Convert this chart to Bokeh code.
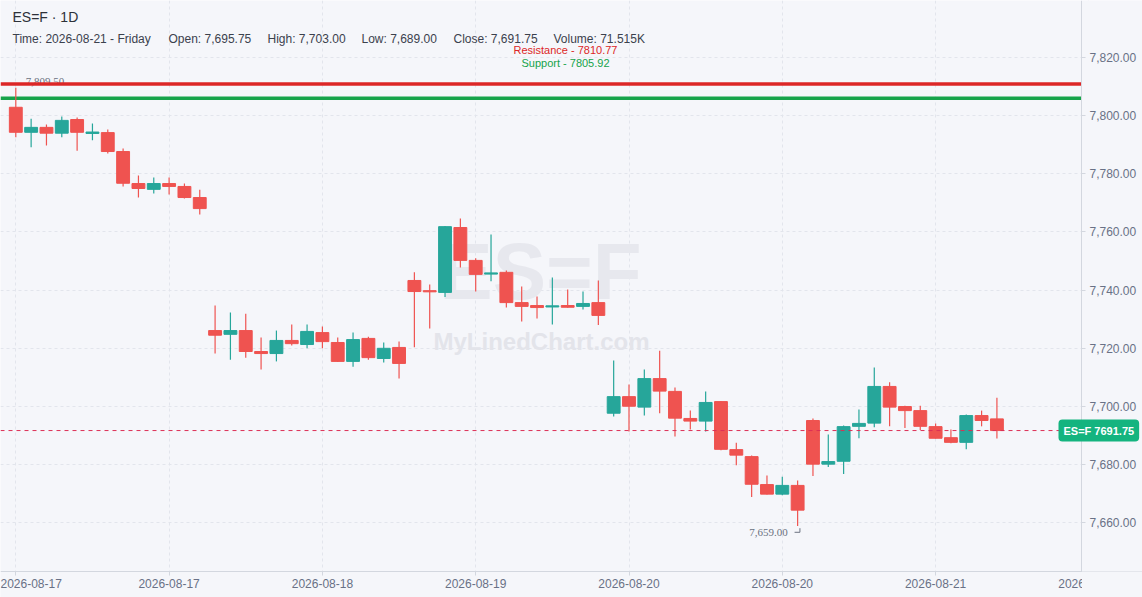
from bokeh.plotting import figure
from bokeh.models import Label, FixedTicker, NumeralTickFormatter, Range1d, BoxAnnotation
from bokeh.embed import file_html
from bokeh.resources import INLINE

# ---------------- data ----------------
symbol = "ES=F"
interval = "1D"

opens = [7802.8, 7794.2, 7795.9, 7793.9, 7798.6, 7793.8, 7794.1, 7787.6, 7776.6, 7774.6,
         7776.6, 7775.6, 7771.8, 7726.1, 7724.8, 7726.1, 7718.9, 7718.2, 7722.7, 7721.3,
         7725.4, 7722.0, 7715.5, 7723.4, 7716.5, 7720.3, 7743.3, 7739.8, 7739.2, 7761.5,
         7750.2, 7745.5, 7746.1, 7735.7, 7734.7, 7734.2, 7734.7, 7734.4, 7735.7, 7697.7,
         7703.4, 7699.8, 7709.6, 7705.2, 7695.9, 7695.0, 7701.7, 7685.2, 7682.8, 7673.2,
         7669.9, 7672.9, 7695.2, 7680.2, 7681.2, 7693.2, 7694.3, 7706.9, 7700.0, 7698.6,
         7693.1, 7689.3, 7687.7, 7696.9, 7695.75]
highs = [7809.5, 7798.9, 7796.9, 7799.6, 7799.3, 7797.2, 7795.2, 7788.6, 7779.4, 7778.7,
         7778.7, 7776.6, 7774.5, 7734.7, 7732.3, 7731.9, 7723.7, 7726.1, 7728.2, 7728.2,
         7727.5, 7723.7, 7725.4, 7724.0, 7722.0, 7722.3, 7746.1, 7741.9, 7762.0, 7764.6,
         7750.9, 7759.1, 7746.7, 7741.2, 7737.8, 7744.3, 7740.2, 7739.5, 7743.3, 7715.8,
         7707.6, 7712.7, 7719.2, 7706.5, 7698.6, 7705.2, 7701.9, 7687.6, 7683.2, 7676.3,
         7675.9, 7674.6, 7695.9, 7690.4, 7693.5, 7699.0, 7713.4, 7708.3, 7700.3, 7700.3,
         7694.2, 7692.1, 7697.3, 7698.6, 7703.0]
lows = [7792.5, 7789.1, 7789.7, 7792.5, 7787.9, 7791.5, 7786.9, 7775.6, 7771.8, 7773.2,
        7772.8, 7771.5, 7766.0, 7718.2, 7716.1, 7716.8, 7712.7, 7715.5, 7721.0, 7720.0,
        7720.0, 7715.3, 7713.7, 7716.1, 7715.1, 7709.6, 7720.4, 7726.8, 7737.6, 7747.8,
        7739.5, 7743.0, 7734.0, 7729.2, 7730.2, 7728.2, 7733.9, 7733.3, 7728.0, 7696.6,
        7691.4, 7696.9, 7697.7, 7689.7, 7692.1, 7691.4, 7685.0, 7679.8, 7668.9, 7669.8,
        7669.5, 7659.0, 7676.1, 7679.2, 7676.8, 7689.1, 7692.9, 7693.2, 7692.6, 7691.9,
        7689.0, 7687.4, 7685.3, 7693.2, 7689.0]
closes = [7794.2, 7795.9, 7793.9, 7798.3, 7794.2, 7794.3, 7787.6, 7776.7, 7774.9, 7776.6,
          7775.6, 7771.8, 7768.0, 7724.5, 7726.1, 7718.9, 7718.2, 7722.7, 7721.6, 7725.8,
          7722.3, 7715.5, 7723.0, 7716.8, 7720.0, 7714.8, 7739.5, 7739.4, 7761.8, 7750.2,
          7745.4, 7745.9, 7735.7, 7734.4, 7734.0, 7734.6, 7734.1, 7735.4, 7731.3, 7703.4,
          7700.1, 7709.6, 7705.3, 7696.0, 7695.0, 7701.4, 7685.3, 7683.3, 7673.3, 7669.9,
          7672.9, 7664.4, 7680.2, 7681.1, 7693.1, 7694.2, 7706.9, 7699.8, 7698.6, 7693.2,
          7689.1, 7687.7, 7696.9, 7695.2, 7691.75]

x_tick_idx = [0, 10, 20, 30, 40, 50, 60, 70]
x_tick_labels = ["2026-08-17", "2026-08-17", "2026-08-18", "2026-08-19",
                 "2026-08-20", "2026-08-20", "2026-08-21", "2026-08-21"]
y_ticks = [7660, 7680, 7700, 7720, 7740, 7760, 7780, 7800, 7820]

resistance = 7810.77
support = 7805.92

last_time = "2026-08-21 - Friday"
last_open = 7695.75
last_high = 7703.00
last_low = 7689.00
last_close = 7691.75
last_volume = "71.515K"

# ---------------- layout / styling ----------------
BG = "#f5f6fa"
UP = "#26a69a"
DOWN = "#ef5350"
GRID = "#e2e5ec"
AXIS_TXT = "#697186"
AXIS_LINE = "#d3d7df"
MARK_TXT = "#6b7280"
FONT = "Liberation Sans"

W, H = 1142, 597          # whole page; the frame fills it
PANE_R, PANE_B = 1081, 571  # pixel position of the price axis / time axis
PX_PER_BAR = 15.33
PX_PER_PT = 1 / 0.34352
X0 = -15.3 / PX_PER_BAR
X1 = X0 + W / PX_PER_BAR
Y1 = 7839.48
Y0 = Y1 - H / PX_PER_PT
AX = X0 + PANE_R / PX_PER_BAR   # x (bar units) where the price axis sits
AY = Y1 - PANE_B / PX_PER_PT    # y (price) where the time axis sits

xs = list(range(len(opens)))
colors = [UP if c >= o else DOWN for o, c in zip(opens, closes)]
tops = [max(o, c) for o, c in zip(opens, closes)]
bots = [min(o, c) for o, c in zip(opens, closes)]

p = figure(width=W, height=H, output_backend="svg", toolbar_location=None,
           x_range=Range1d(X0, X1), y_range=Range1d(Y0, Y1),
           y_axis_location="right", min_border=0)
p.background_fill_color = BG
p.border_fill_color = BG
p.outline_line_color = None

# axes (drawn inside the frame at fixed positions)
p.yaxis.ticker = FixedTicker(ticks=y_ticks)
p.yaxis.formatter = NumeralTickFormatter(format="0,0.00")
p.yaxis.fixed_location = AX
p.yaxis.bounds = (AY, Y1)
p.xaxis.ticker = FixedTicker(ticks=x_tick_idx)
p.xaxis.major_label_overrides = {i: lab for i, lab in zip(x_tick_idx, x_tick_labels)}
p.xaxis.fixed_location = AY
for ax in (p.xaxis, p.yaxis):
    ax.axis_line_color = AXIS_LINE
    ax.major_tick_line_color = AXIS_LINE
    ax.major_tick_out = 4
    ax.major_tick_in = 0
    ax.minor_tick_line_color = None
    ax.major_label_text_color = AXIS_TXT
    ax.major_label_text_font = FONT
    ax.major_label_text_font_size = "12px"
p.yaxis.major_label_standoff = 4
p.xaxis.major_label_standoff = 3

p.xgrid.grid_line_color = GRID
p.ygrid.grid_line_color = GRID
p.xgrid.grid_line_dash = "3 3"
p.ygrid.grid_line_dash = "3 3"


def sy(y_top):
    """pixel y measured from the top -> frame-relative label y"""
    return H - y_top


# watermark
p.add_layout(Label(x=540, y=sy(271), x_units="screen", y_units="screen",
                   text=symbol, text_align="center", text_baseline="middle",
                   text_font=FONT, text_font_style="bold", text_font_size="80px",
                   text_color="#e7e8ee", level="underlay"))
p.add_layout(Label(x=541, y=sy(341), x_units="screen", y_units="screen",
                   text="MyLinedChart.com", text_align="center", text_baseline="middle",
                   text_font=FONT, text_font_style="bold", text_font_size="24px",
                   text_color="#e3e4ea", level="underlay"))

# keep grid lines inside the price pane
p.add_layout(BoxAnnotation(left=AX, fill_color=BG, fill_alpha=1, line_color=None,
                           level="underlay"))
p.add_layout(BoxAnnotation(top=AY, fill_color=BG, fill_alpha=1, line_color=None,
                           level="underlay"))

# high / low markers (under the level lines)
imax = max(xs, key=lambda i: highs[i])
imin = min(xs, key=lambda i: lows[i])
p.text(x=[imax], y=[highs[imax]], text=[f"{highs[imax]:,.2f}"], x_offset=10, y_offset=-6,
       text_align="left", text_baseline="middle", text_font=FONT,
       text_font_size="11px", text_color=MARK_TXT)
p.segment(x0=[imax], y0=[highs[imax] + 1.4], x1=[imax + 0.33], y1=[highs[imax] + 1.4],
          line_color=MARK_TXT, line_width=1)
p.text(x=[imin], y=[lows[imin]], text=[f"{lows[imin]:,.2f}"], x_offset=-10, y_offset=7,
       text_align="right", text_baseline="middle", text_font=FONT,
       text_font_size="11px", text_color=MARK_TXT)
p.segment(x0=[imin - 0.2], y0=[lows[imin] - 2.2], x1=[imin + 0.15], y1=[lows[imin] - 2.2],
          line_color=MARK_TXT, line_width=1)
p.segment(x0=[imin + 0.15], y0=[lows[imin] - 2.2], x1=[imin + 0.15], y1=[lows[imin] - 0.8],
          line_color=MARK_TXT, line_width=1)

# support / resistance
p.segment(x0=[X0], y0=[resistance], x1=[AX], y1=[resistance], line_color="#dc2626", line_width=3.5)
p.segment(x0=[X0], y0=[support], x1=[AX], y1=[support], line_color="#16a34a", line_width=3.5)

# candles
p.segment(x0=xs, y0=lows, x1=xs, y1=highs, line_color=colors, line_width=1.2)
p.vbar(x=xs, width=0.84, top=tops, bottom=bots, fill_color=colors, line_color=colors, line_width=1)

# last price line
p.segment(x0=[X0], y0=[last_close], x1=[AX], y1=[last_close], line_color="#dc2f55",
          line_width=1, line_dash="4 4")

p.add_layout(Label(x=565, y=sy(49), x_units="screen", y_units="screen",
                   text=f"Resistance - {resistance:.2f}", text_align="center",
                   text_baseline="middle", text_font=FONT, text_font_size="11px",
                   text_color="#dc2626"))
p.add_layout(Label(x=565, y=sy(62), x_units="screen", y_units="screen",
                   text=f"Support - {support:.2f}", text_align="center",
                   text_baseline="middle", text_font=FONT, text_font_size="11px",
                   text_color="#16a34a"))

# the last time label is cut off at the price axis
p.add_layout(BoxAnnotation(left=AX + 0.03, top=AY, fill_color=BG, fill_alpha=1,
                           line_color=None))

# last-price tag on the axis
p.add_layout(Label(x=1058, y=last_close, x_units="screen", y_units="data",
                   text=f"{symbol} {last_close:.2f}", text_align="left", text_baseline="middle",
                   text_font=FONT, text_font_style="bold", text_font_size="11px",
                   text_color="white", background_fill_color="#14b47f",
                   border_radius=4, padding=5))

# header
p.add_layout(Label(x=12, y=sy(16), x_units="screen", y_units="screen",
                   text=f"{symbol} · {interval}", text_align="left", text_baseline="middle",
                   text_font=FONT, text_font_size="14px", text_color="#2d3139"))
header_items = [
    (12, f"Time: {last_time}"),
    (168, f"Open: {last_open:,.2f}"),
    (267, f"High: {last_high:,.2f}"),
    (361, f"Low: {last_low:,.2f}"),
    (453, f"Close: {last_close:,.2f}"),
    (553, f"Volume: {last_volume}"),
]
for hx, txt in header_items:
    p.add_layout(Label(x=hx, y=sy(38), x_units="screen", y_units="screen",
                       text=txt, text_align="left", text_baseline="middle",
                       text_font=FONT, text_font_size="12px", text_color="#3b414d"))

open("out.html", "w").write(file_html(p, INLINE))
